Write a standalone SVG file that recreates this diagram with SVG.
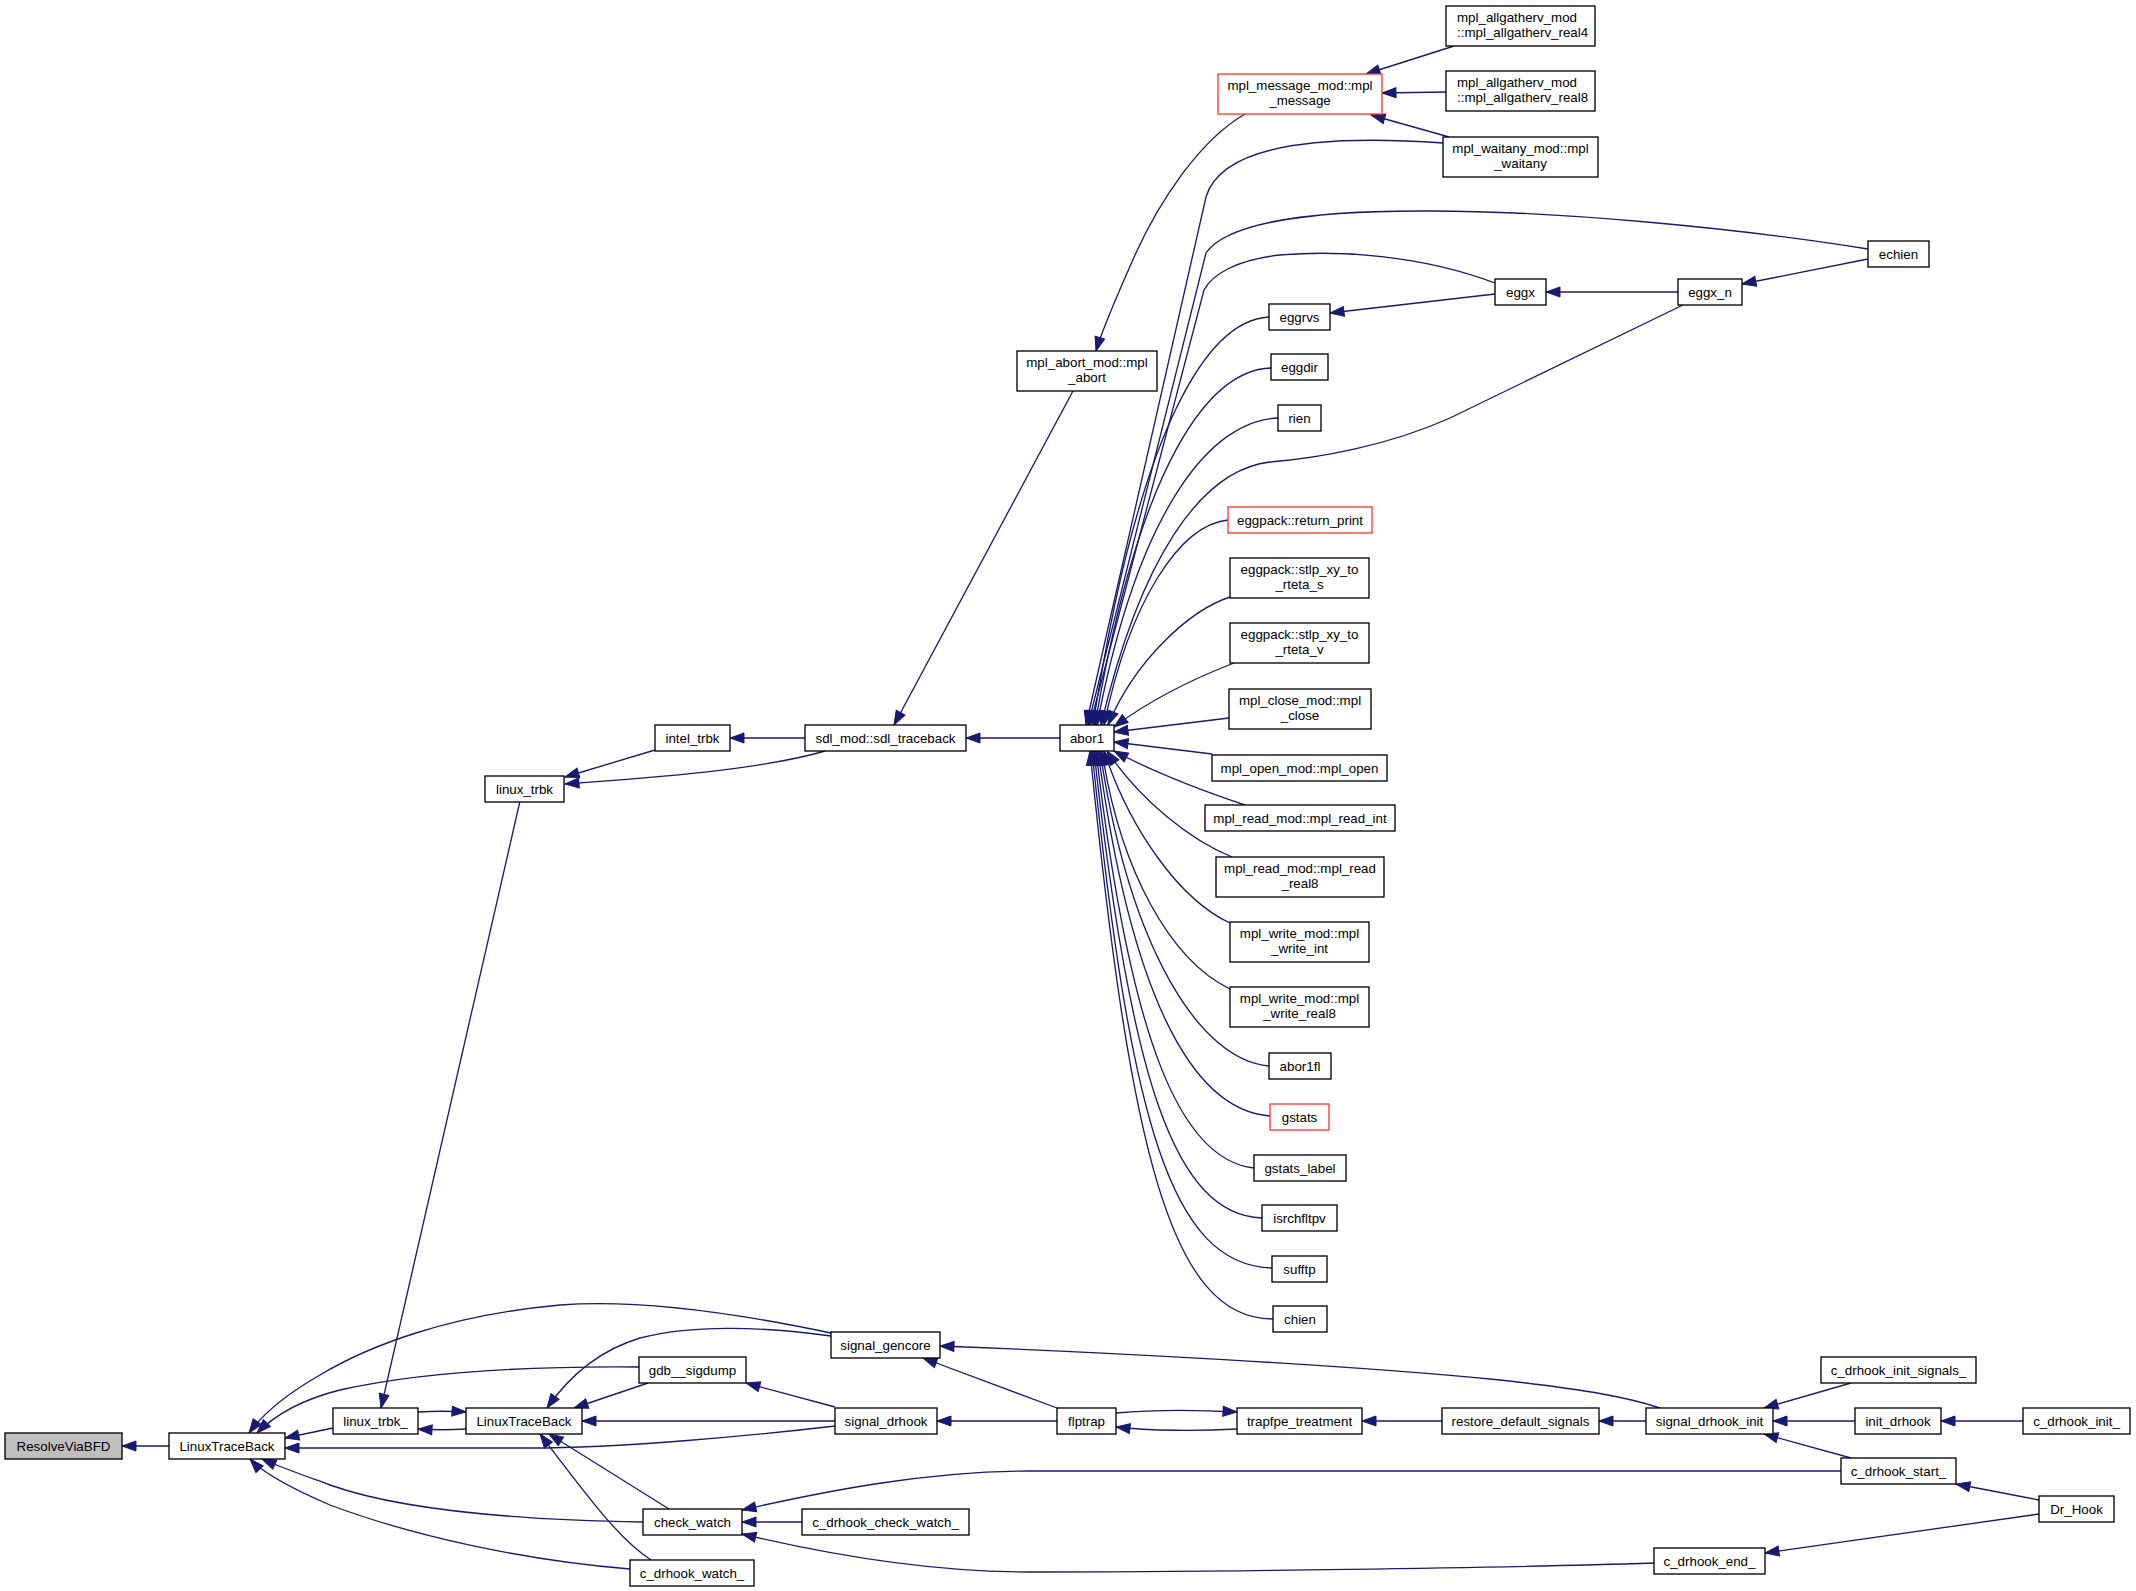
<svg xmlns="http://www.w3.org/2000/svg" width="2136" height="1591" viewBox="0 0 2136 1591">
<style>
.n rect{fill:#fff;stroke:#000;stroke-width:1.33}
.r rect{stroke:#ff3333}
.g rect{fill:#bfbfbf}
text{font-family:"Liberation Sans",Arial,sans-serif;font-size:13.33px;text-anchor:middle;fill:#000}
text.l{text-anchor:start}
#edges path{fill:none;stroke:#191970;stroke-width:1.33;marker-end:url(#a)}
</style>
<defs>
<marker id="a" markerUnits="userSpaceOnUse" markerWidth="15" markerHeight="11" refX="14" refY="5" orient="auto" overflow="visible">
<path d="M0,0 L14,5 L0,10 z" fill="#191970" stroke="#191970" stroke-width="1"/>
</marker>
</defs>
<rect width="2136" height="1591" fill="#fff"/>
<g id="edges">
<path d="M169,1446 L122,1446"/>
<path d="M333,1428 L285,1438"/>
<path d="M418,1412 C435,1411 450,1411 466,1412"/>
<path d="M466,1429 C450,1430 435,1430 418,1429"/>
<path d="M520,801 L381,1408"/>
<path d="M655,750 L565,777"/>
<path d="M825,751 C760,770 650,778 565,784"/>
<path d="M805,738 L730,738"/>
<path d="M1060,738 L966,738"/>
<path d="M1073,391 L894,725"/>
<path d="M1245,114 C1200,140 1160,200 1135,255 C1115,300 1102,330 1096,351"/>
<path d="M1454,46 L1366,74"/>
<path d="M1446,92 L1382,93"/>
<path d="M1449,137 L1371,115"/>
<path d="M1678,292 L1546,292"/>
<path d="M1495,294 L1330,313"/>
<path d="M1868,259 L1742,284"/>
<path d="M1443,143 C1300,133 1220,150 1206,197 L1086,725"/>
<path d="M1868,249 C1750,230 1560,210 1420,211 C1300,211 1225,225 1206,253 L1088,725"/>
<path d="M1495,283 C1420,255 1340,250 1280,255 C1235,260 1212,275 1204,290 L1090,725"/>
<path d="M1269,317 C1210,320 1140,420 1093,725"/>
<path d="M1271,368 C1210,370 1140,460 1095,725"/>
<path d="M1278,418 C1215,420 1140,500 1097,725"/>
<path d="M1685,304 L1450,418 C1390,445 1320,458 1270,462 C1200,470 1140,560 1101,725"/>
<path d="M1228,520 C1180,525 1130,600 1104,725"/>
<path d="M1230,597 C1190,610 1135,660 1108,725"/>
<path d="M1234,663 C1190,680 1150,700 1114,727"/>
<path d="M1229,718 L1114,732"/>
<path d="M1212,754 L1114,742"/>
<path d="M1245,805 C1200,790 1150,770 1114,751"/>
<path d="M1232,857 C1190,840 1140,800 1107,751"/>
<path d="M1230,923 C1180,900 1130,830 1104,751"/>
<path d="M1230,989 C1170,960 1120,870 1102,751"/>
<path d="M1269,1066 C1200,1060 1130,950 1100,751"/>
<path d="M1270,1116 C1190,1110 1130,990 1098,751"/>
<path d="M1254,1168 C1180,1160 1130,1040 1096,751"/>
<path d="M1262,1218 C1175,1215 1130,1080 1094,751"/>
<path d="M1272,1268 C1170,1265 1130,1120 1092,751"/>
<path d="M1273,1319 C1170,1319 1130,1150 1090,751"/>
<path d="M831,1333 C760,1318 650,1298 560,1305 C450,1315 370,1345 320,1375 C285,1395 262,1415 249,1433"/>
<path d="M639,1367 C520,1366 420,1372 340,1390 C300,1400 275,1415 257,1433"/>
<path d="M835,1426 C750,1436 620,1448 530,1448 L285,1448"/>
<path d="M643,1522 C520,1520 400,1510 330,1485 C300,1474 280,1467 262,1459"/>
<path d="M630,1569 C520,1560 410,1535 330,1505 C295,1490 265,1475 250,1459"/>
<path d="M831,1336 C760,1326 690,1325 640,1338 C600,1350 570,1375 547,1408"/>
<path d="M648,1383 L574,1408"/>
<path d="M835,1421 L582,1421"/>
<path d="M669,1509 L549,1434"/>
<path d="M651,1560 C620,1540 590,1500 540,1434"/>
<path d="M835,1407 L746,1383"/>
<path d="M1057,1408 L923,1358"/>
<path d="M1660,1408 C1630,1398 1590,1390 1500,1380 C1350,1365 1100,1352 940,1346"/>
<path d="M1057,1421 L937,1421"/>
<path d="M1116,1413 C1150,1410 1200,1410 1237,1412"/>
<path d="M1237,1429 C1200,1431 1150,1431 1116,1427"/>
<path d="M1442,1421 L1362,1421"/>
<path d="M1646,1421 L1599,1421"/>
<path d="M1851,1383 L1764,1408"/>
<path d="M1855,1421 L1773,1421"/>
<path d="M1851,1458 L1764,1434"/>
<path d="M2023,1421 L1941,1421"/>
<path d="M2039,1500 L1956,1484"/>
<path d="M2039,1514 L1765,1553"/>
<path d="M1841,1471 L1030,1471 C930,1471 830,1490 742,1510"/>
<path d="M802,1522 L742,1522"/>
<path d="M1654,1563 C1500,1568 1200,1572 1030,1572 C930,1572 830,1555 742,1534"/>
</g>
<g id="n1" class="n g"><rect x="5" y="1433" width="117" height="26"/><text x="63.5" y="1450.5">ResolveViaBFD</text></g>
<g id="n2" class="n"><rect x="169" y="1433" width="116" height="26"/><text x="227" y="1450.5">LinuxTraceBack</text></g>
<g id="n3" class="n"><rect x="333" y="1408" width="85" height="26"/><text x="375.5" y="1425.5">linux_trbk_</text></g>
<g id="n4" class="n"><rect x="466" y="1408" width="116" height="26"/><text x="524" y="1425.5">LinuxTraceBack</text></g>
<g id="n5" class="n"><rect x="639" y="1357" width="107" height="26"/><text x="692.5" y="1374.5">gdb__sigdump</text></g>
<g id="n6" class="n"><rect x="643" y="1509" width="99" height="26"/><text x="692.5" y="1526.5">check_watch</text></g>
<g id="n7" class="n"><rect x="630" y="1560" width="124" height="26"/><text x="692" y="1577.5">c_drhook_watch_</text></g>
<g id="n8" class="n"><rect x="831" y="1332" width="109" height="26"/><text x="885.5" y="1349.5">signal_gencore</text></g>
<g id="n9" class="n"><rect x="835" y="1408" width="102" height="26"/><text x="886" y="1425.5">signal_drhook</text></g>
<g id="n10" class="n"><rect x="1057" y="1408" width="59" height="26"/><text x="1086.5" y="1425.5">flptrap</text></g>
<g id="n11" class="n"><rect x="1237" y="1408" width="125" height="26"/><text x="1299.5" y="1425.5">trapfpe_treatment</text></g>
<g id="n12" class="n"><rect x="802" y="1509" width="167" height="26"/><text x="885.5" y="1526.5">c_drhook_check_watch_</text></g>
<g id="n13" class="n"><rect x="1442" y="1408" width="157" height="26"/><text x="1520.5" y="1425.5">restore_default_signals</text></g>
<g id="n14" class="n"><rect x="1646" y="1408" width="127" height="26"/><text x="1709.5" y="1425.5">signal_drhook_init</text></g>
<g id="n15" class="n"><rect x="1821" y="1357" width="155" height="26"/><text x="1898.5" y="1374.5">c_drhook_init_signals_</text></g>
<g id="n16" class="n"><rect x="1855" y="1408" width="86" height="26"/><text x="1898" y="1425.5">init_drhook</text></g>
<g id="n17" class="n"><rect x="2023" y="1408" width="107" height="26"/><text x="2076.5" y="1425.5">c_drhook_init_</text></g>
<g id="n18" class="n"><rect x="1841" y="1458" width="115" height="26"/><text x="1898.5" y="1475.5">c_drhook_start_</text></g>
<g id="n19" class="n"><rect x="2039" y="1496" width="75" height="26"/><text x="2076.5" y="1513.5">Dr_Hook</text></g>
<g id="n20" class="n"><rect x="1654" y="1548" width="111" height="26"/><text x="1709.5" y="1565.5">c_drhook_end_</text></g>
<g id="n21" class="n"><rect x="655" y="725" width="75" height="26"/><text x="692.5" y="742.5">intel_trbk</text></g>
<g id="n22" class="n"><rect x="805" y="725" width="161" height="26"/><text x="885.5" y="742.5">sdl_mod::sdl_traceback</text></g>
<g id="n23" class="n"><rect x="1060" y="725" width="54" height="26"/><text x="1087" y="742.5">abor1</text></g>
<g id="n24" class="n"><rect x="485" y="776" width="79" height="26"/><text x="524.5" y="793.5">linux_trbk</text></g>
<g id="n25" class="n r"><rect x="1218" y="74" width="164" height="40"/><text x="1300" y="90">mpl_message_mod::mpl</text><text x="1300" y="105">_message</text></g>
<g id="n26" class="n"><rect x="1017" y="351" width="140" height="40"/><text x="1087" y="367">mpl_abort_mod::mpl</text><text x="1087" y="382">_abort</text></g>
<g id="n27" class="n"><rect x="1269" y="304" width="61" height="26"/><text x="1299.5" y="321.5">eggrvs</text></g>
<g id="n28" class="n"><rect x="1271" y="354" width="57" height="26"/><text x="1299.5" y="371.5">eggdir</text></g>
<g id="n29" class="n"><rect x="1495" y="279" width="51" height="26"/><text x="1520.5" y="296.5">eggx</text></g>
<g id="n30" class="n"><rect x="1678" y="279" width="64" height="26"/><text x="1710" y="296.5">eggx_n</text></g>
<g id="n31" class="n"><rect x="1868" y="241" width="61" height="26"/><text x="1898.5" y="258.5">echien</text></g>
<g id="n32" class="n"><rect x="1446" y="6" width="149" height="40"/><text class="l" x="1457" y="22">mpl_allgatherv_mod</text><text class="l" x="1457" y="37">::mpl_allgatherv_real4</text></g>
<g id="n33" class="n"><rect x="1446" y="71" width="149" height="40"/><text class="l" x="1457" y="87">mpl_allgatherv_mod</text><text class="l" x="1457" y="102">::mpl_allgatherv_real8</text></g>
<g id="n34" class="n"><rect x="1443" y="137" width="155" height="40"/><text x="1520.5" y="153">mpl_waitany_mod::mpl</text><text x="1520.5" y="168">_waitany</text></g>
<g id="n35" class="n"><rect x="1278" y="405" width="43" height="26"/><text x="1299.5" y="422.5">rien</text></g>
<g id="n36" class="n r"><rect x="1228" y="507" width="144" height="26"/><text x="1300" y="524.5">eggpack::return_print</text></g>
<g id="n37" class="n"><rect x="1230" y="558" width="139" height="40"/><text x="1299.5" y="574">eggpack::stlp_xy_to</text><text x="1299.5" y="589">_rteta_s</text></g>
<g id="n38" class="n"><rect x="1230" y="623" width="139" height="40"/><text x="1299.5" y="639">eggpack::stlp_xy_to</text><text x="1299.5" y="654">_rteta_v</text></g>
<g id="n39" class="n"><rect x="1229" y="689" width="142" height="40"/><text x="1300" y="705">mpl_close_mod::mpl</text><text x="1300" y="720">_close</text></g>
<g id="n40" class="n"><rect x="1212" y="755" width="175" height="26"/><text x="1299.5" y="772.5">mpl_open_mod::mpl_open</text></g>
<g id="n41" class="n"><rect x="1205" y="805" width="190" height="26"/><text x="1300" y="822.5">mpl_read_mod::mpl_read_int</text></g>
<g id="n42" class="n"><rect x="1216" y="857" width="168" height="40"/><text x="1300" y="873">mpl_read_mod::mpl_read</text><text x="1300" y="888">_real8</text></g>
<g id="n43" class="n"><rect x="1230" y="922" width="139" height="40"/><text x="1299.5" y="938">mpl_write_mod::mpl</text><text x="1299.5" y="953">_write_int</text></g>
<g id="n44" class="n"><rect x="1230" y="987" width="139" height="40"/><text x="1299.5" y="1003">mpl_write_mod::mpl</text><text x="1299.5" y="1018">_write_real8</text></g>
<g id="n45" class="n"><rect x="1269" y="1053" width="62" height="26"/><text x="1300" y="1070.5">abor1fl</text></g>
<g id="n46" class="n r"><rect x="1270" y="1104" width="59" height="26"/><text x="1299.5" y="1121.5">gstats</text></g>
<g id="n47" class="n"><rect x="1254" y="1155" width="92" height="26"/><text x="1300" y="1172.5">gstats_label</text></g>
<g id="n48" class="n"><rect x="1262" y="1205" width="75" height="26"/><text x="1299.5" y="1222.5">isrchfltpv</text></g>
<g id="n49" class="n"><rect x="1272" y="1256" width="55" height="26"/><text x="1299.5" y="1273.5">sufftp</text></g>
<g id="n50" class="n"><rect x="1273" y="1306" width="54" height="26"/><text x="1300" y="1323.5">chien</text></g>
</svg>
